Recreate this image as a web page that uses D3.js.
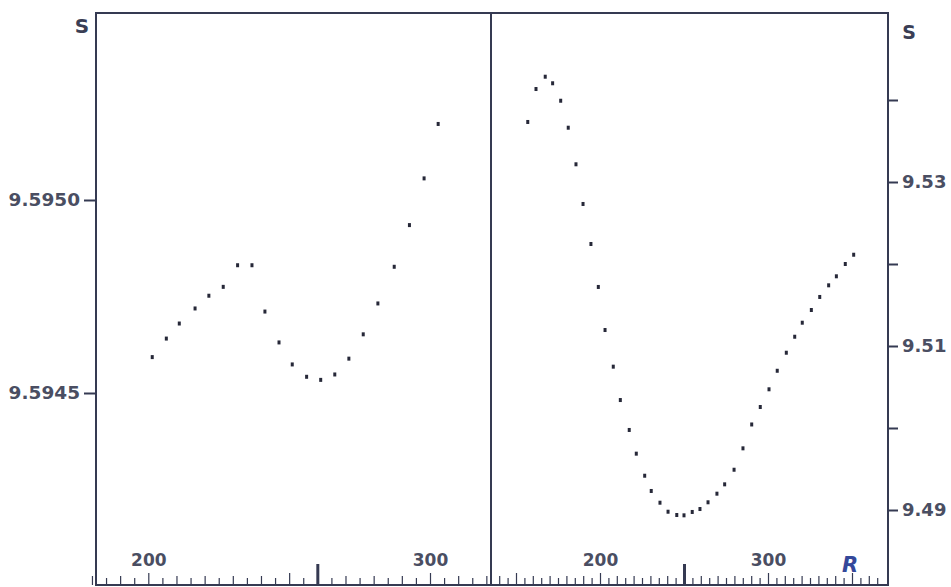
<!DOCTYPE html>
<html>
<head>
<meta charset="utf-8">
<script src="https://cdn.jsdelivr.net/npm/d3@7"></script>
<style>
  html, body { margin: 0; padding: 0; background: #ffffff; }
  svg { display: block; }
  .lbl { font-family: "DejaVu Sans", "Liberation Sans", sans-serif; font-weight: bold; }
</style>
</head>
<body>
<svg id="chart" width="951" height="587"></svg>
<script>
// Left panel: S against R (first run)
const leftR = [201.4, 206.4, 211.0, 216.6, 221.5, 226.6, 231.7, 236.8, 241.4, 246.4,
               251.1, 256.2, 261.2, 266.2, 271.2, 276.3, 281.5, 287.3, 292.7, 297.9, 302.9];
const leftS = [9.594593, 9.594641, 9.594680, 9.594719, 9.594752, 9.594775, 9.594831, 9.594831,
               9.594711, 9.594631, 9.594574, 9.594542, 9.594534, 9.594548, 9.594589, 9.594652,
               9.594732, 9.594827, 9.594935, 9.595056, 9.595197];

// Right panel: S against R (second run)
const rightR = [157.0, 161.9, 167.4, 171.8, 176.6, 181.1, 185.7, 189.9, 194.6, 199.0,
                203.0, 207.9, 212.1, 217.4, 221.6, 226.6, 230.5, 235.7, 240.5, 245.7,
                250.0, 254.9, 259.5, 264.3, 269.6, 274.2, 279.8, 285.1, 290.3, 295.4,
                300.6, 305.5, 310.9, 315.9, 320.4, 325.8, 330.8, 336.1, 340.7, 346.0, 351.0];
const rightS = [9.53732, 9.54134, 9.54284, 9.54204, 9.53991, 9.53662, 9.53216, 9.52732, 9.52244, 9.51720,
                9.51195, 9.50748, 9.50341, 9.49976, 9.49687, 9.49418, 9.49232, 9.49089, 9.48979, 9.48939,
                9.48935, 9.48976, 9.49012, 9.49094, 9.49199, 9.49313, 9.49491, 9.49752, 9.50043, 9.50256,
                9.50472, 9.50698, 9.50918, 9.51113, 9.51284, 9.51439, 9.51598, 9.51740, 9.51850, 9.52000,
                9.52113];

// Axis ticks and labels
const leftSTicks = [9.5950, 9.5945];
const rightSTicks = [9.54, 9.53, 9.52, 9.51, 9.50, 9.49];
const rightSLabels = [9.53, 9.51, 9.49];
const rLabels = [200, 300];
const leftRRange = [180, 320];
const rightRRange = [135, 365];
const leftRMark = 260;
const rightRMark = 250;

const ink = "#353a52";
const textInk = "#4a4e62";
const dotInk = "#262838";

// Frame geometry
const frameTop = 13, frameBottom = 585, xL = 96, xMid = 491, xR = 888;

const svg = d3.select("#chart");

// Scales
const xLeft = d3.scaleLinear().domain([200, 300]).range([148.3, 430]);
const xRight = d3.scaleLinear().domain([200, 300]).range([600, 768]);
const yLeft = d3.scaleLinear().domain([9.5950, 9.5945]).range([200, 393]);
const yRight = d3.scaleLinear().domain([9.53, 9.49]).range([182, 510]);

// Frame
const frame = svg.append("g").attr("fill", "none").attr("stroke", ink).attr("stroke-width", 2);
frame.append("rect").attr("x", xL).attr("y", frameTop).attr("width", xR - xL).attr("height", frameBottom - frameTop);
frame.append("line").attr("x1", xMid).attr("x2", xMid).attr("y1", frameTop).attr("y2", frameBottom);

// Left S axis
const axL = svg.append("g").attr("transform", `translate(${xL},0)`)
  .call(d3.axisLeft(yLeft).tickValues(leftSTicks).tickFormat(d3.format(".4f"))
        .tickSize(12).tickPadding(4));
axL.select(".domain").remove();
axL.selectAll(".tick line").attr("stroke", ink).attr("stroke-width", 2);
axL.selectAll(".tick text").attr("class", "lbl").attr("font-size", 18.5).attr("fill", textInk);

// Right S axis
const axR = svg.append("g").attr("transform", `translate(${xR},0)`)
  .call(d3.axisRight(yRight).tickValues(rightSTicks)
        .tickFormat(d => rightSLabels.some(v => Math.abs(v - d) < 1e-9) ? d3.format(".2f")(d) : "")
        .tickSize(10).tickPadding(4));
axR.select(".domain").remove();
axR.selectAll(".tick line").attr("stroke", ink).attr("stroke-width", 2);
axR.selectAll(".tick text").attr("class", "lbl").attr("font-size", 18).attr("fill", textInk);

// Bottom R axes, ticks every 5 units pointing up into the panels
function rAxis(scale, range, mark) {
  const vals = d3.range(range[0], range[1] + 0.1, 5);
  const g = svg.append("g").attr("transform", `translate(0,${frameBottom})`)
    .call(d3.axisTop(scale).tickValues(vals)
          .tickFormat(d => rLabels.includes(d) ? String(d) : "")
          .tickSize(7).tickPadding(12));
  g.select(".domain").remove();
  g.selectAll(".tick line")
    .attr("stroke", ink)
    .attr("stroke-width", d => d === mark ? 3 : 1.2)
    .attr("y2", d => d === mark ? -21 : (d % 50 === 0 ? -12 : (d % 10 === 0 ? -9 : -7)));
  g.selectAll(".tick text").attr("class", "lbl").attr("font-size", 17).attr("fill", textInk);
  return g;
}
rAxis(xLeft, leftRRange, leftRMark);
rAxis(xRight, rightRRange, rightRMark);

// Axis titles
svg.append("text").attr("class", "lbl").attr("x", 82).attr("y", 33)
  .attr("text-anchor", "middle").attr("font-size", 20).attr("fill", "#3a3e55").text("S");
svg.append("text").attr("class", "lbl").attr("x", 909).attr("y", 39)
  .attr("text-anchor", "middle").attr("font-size", 19).attr("fill", "#3a3e55").text("S");
svg.append("text").attr("class", "lbl").attr("x", 850).attr("y", 572)
  .attr("text-anchor", "middle").attr("font-size", 21).attr("font-style", "italic")
  .attr("fill", "#34489a").text("R");

// Data points
function plotPoints(xs, ys, xScale, yScale) {
  svg.append("g").attr("fill", dotInk)
    .selectAll("rect").data(xs.map((r, i) => [r, ys[i]])).join("rect")
    .attr("x", d => xScale(d[0]) - 1.5)
    .attr("y", d => yScale(d[1]) - 2)
    .attr("width", 3).attr("height", 4);
}
plotPoints(leftR, leftS, xLeft, yLeft);
plotPoints(rightR, rightS, xRight, yRight);
</script>
</body>
</html>
